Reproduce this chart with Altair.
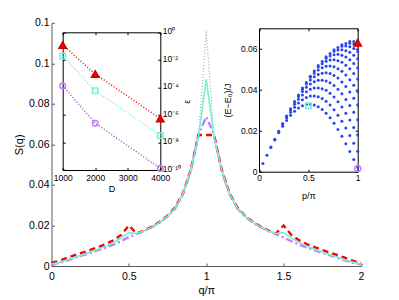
import altair as alt
import pandas as pd

FONT = "Liberation Sans"

# ---------------- main panel: S(q) ----------------
q = [0.00, 0.05, 0.10, 0.15, 0.20, 0.25, 0.30, 0.35, 0.40, 0.45, 0.50,
     0.55, 0.60, 0.65, 0.70, 0.75, 0.80, 0.85, 0.90, 0.95, 1.00,
     1.05, 1.10, 1.15, 1.20, 1.25, 1.30, 1.35, 1.40, 1.45, 1.50,
     1.55, 1.60, 1.65, 1.70, 1.75, 1.80, 1.85, 1.90, 1.95, 2.00]

s_red = [0.0016, 0.0025, 0.0040, 0.0053, 0.0066, 0.0079, 0.0093, 0.0108, 0.0127, 0.0153, 0.0200,
         0.0160, 0.0176, 0.0195, 0.0218, 0.0248, 0.0290, 0.0360, 0.0475, 0.0646, 0.0646,
         0.0646, 0.0475, 0.0360, 0.0290, 0.0248, 0.0218, 0.0195, 0.0176, 0.0160, 0.0200,
         0.0153, 0.0127, 0.0108, 0.0093, 0.0079, 0.0066, 0.0053, 0.0040, 0.0025, 0.0014]

s_cyan = [0.0010, 0.0018, 0.0030, 0.0043, 0.0056, 0.0069, 0.0083, 0.0098, 0.0116, 0.0138, 0.0165,
          0.0160, 0.0174, 0.0193, 0.0216, 0.0246, 0.0287, 0.0357, 0.0472, 0.0640, 0.0920,
          0.0640, 0.0472, 0.0357, 0.0287, 0.0246, 0.0216, 0.0193, 0.0174, 0.0160, 0.0165,
          0.0138, 0.0116, 0.0098, 0.0083, 0.0069, 0.0056, 0.0043, 0.0030, 0.0018, 0.0010]

s_purple = [0.0008, 0.0015, 0.0027, 0.0040, 0.0053, 0.0065, 0.0078, 0.0091, 0.0105, 0.0122, 0.0143,
            0.0158, 0.0173, 0.0192, 0.0215, 0.0245, 0.0285, 0.0355, 0.0470, 0.0650, 0.0735,
            0.0650, 0.0470, 0.0355, 0.0285, 0.0245, 0.0215, 0.0192, 0.0173, 0.0158, 0.0141,
            0.0122, 0.0105, 0.0091, 0.0078, 0.0065, 0.0053, 0.0040, 0.0027, 0.0015, 0.0008]

s_grey = [0.0010, 0.0018, 0.0030, 0.0043, 0.0056, 0.0069, 0.0083, 0.0098, 0.0116, 0.0138, 0.0165,
          0.0160, 0.0174, 0.0193, 0.0216, 0.0246, 0.0287, 0.0357, 0.0472, 0.0640, 0.1160,
          0.0640, 0.0472, 0.0357, 0.0287, 0.0246, 0.0216, 0.0193, 0.0174, 0.0160, 0.0165,
          0.0138, 0.0116, 0.0098, 0.0083, 0.0069, 0.0056, 0.0043, 0.0030, 0.0018, 0.0010]

# ---------------- inset 1: epsilon vs D ----------------
D = [1000, 2000, 4000]
eps_red = [1.2e-1, 9.3e-4, 5.4e-7]
eps_cyan = [1.9e-2, 5.8e-5, 3.2e-8]
eps_purple = [1.3e-4, 2.5e-7, 1.3e-10]

# ---------------- inset 2: spectrum (E-E0)/J vs p/pi ----------------
p_cols = [0.04, 0.08, 0.12, 0.16, 0.20, 0.24, 0.28, 0.32, 0.36, 0.40, 0.44, 0.48, 0.52,
          0.56, 0.60, 0.64, 0.68, 0.72, 0.76, 0.80, 0.84, 0.88, 0.92, 0.96, 1.00]
E_cols = [
    [0.0040],
    [0.0080],
    [0.0118, 0.0120],
    [0.0155, 0.0158],
    [0.0190, 0.0195, 0.0198],
    [0.0222, 0.0230, 0.0235],
    [0.0250, 0.0262, 0.0269, 0.0272],
    [0.0275, 0.0290, 0.0301, 0.0307],
    [0.0295, 0.0315, 0.0329, 0.0339, 0.0343],
    [0.0311, 0.0335, 0.0354, 0.0367, 0.0374],
    [0.0322, 0.0351, 0.0374, 0.0392, 0.0403, 0.0408],
    [0.0329, 0.0362, 0.0390, 0.0412, 0.0428, 0.0436],
    [0.0330, 0.0369, 0.0402, 0.0428, 0.0448, 0.0461, 0.0466],
    [0.0326, 0.0370, 0.0408, 0.0439, 0.0464, 0.0481, 0.0491],
    [0.0317, 0.0366, 0.0409, 0.0446, 0.0475, 0.0497, 0.0511, 0.0518],
    [0.0304, 0.0357, 0.0405, 0.0447, 0.0481, 0.0508, 0.0527, 0.0538],
    [0.0285, 0.0344, 0.0397, 0.0443, 0.0483, 0.0515, 0.0539, 0.0554, 0.0561],
    [0.0263, 0.0325, 0.0383, 0.0434, 0.0479, 0.0516, 0.0545, 0.0565, 0.0577],
    [0.0236, 0.0303, 0.0365, 0.0421, 0.0470, 0.0512, 0.0546, 0.0571, 0.0588, 0.0595],
    [0.0206, 0.0276, 0.0342, 0.0402, 0.0457, 0.0503, 0.0542, 0.0573, 0.0594, 0.0606],
    [0.0173, 0.0246, 0.0316, 0.0380, 0.0438, 0.0490, 0.0534, 0.0569, 0.0595, 0.0612, 0.0620],
    [0.0137, 0.0213, 0.0285, 0.0353, 0.0416, 0.0472, 0.0520, 0.0560, 0.0591, 0.0614, 0.0626],
    [0.0099, 0.0177, 0.0252, 0.0323, 0.0389, 0.0449, 0.0502, 0.0547, 0.0583, 0.0610, 0.0627, 0.0635],
    [0.0060, 0.0139, 0.0216, 0.0290, 0.0359, 0.0422, 0.0479, 0.0528, 0.0569, 0.0601, 0.0623, 0.0636],
    [0.0020, 0.0100, 0.0179, 0.0254, 0.0326, 0.0392, 0.0453, 0.0506, 0.0551, 0.0587, 0.0615, 0.0632, 0.0640],
]
tri_p, tri_E = [1.0], [0.0629]
sq_p, sq_E = [0.5], [0.0322]
circ_p, circ_E = [1.0], [0.0016]

# ---------------- colours ----------------
RED = "#ff0000"
CYAN = "#74f2d6"
PURPLE = "#c67cf5"
GREY = "#9a9a9a"
BLUE = "#2846f0"
AXGREY = "#5a5a5a"

# ---------------- geometry of the plot area ----------------
W, H = 309.5, 243.3

sx_main = alt.Scale(domain=[0, 2], range=[0, W], nice=False, zero=False)
sy_main = alt.Scale(domain=[0, 0.12], range=[H, 0], nice=False, zero=False)
sx_i1 = alt.Scale(domain=[1000, 4000], range=[11.2, 108.8], nice=False, zero=False)
sy_i1 = alt.Scale(type="log", domain=[1e-10, 1], range=[147.3, 9.6], nice=False)
sx_i2 = alt.Scale(domain=[0, 1], range=[207.5, 306.2], nice=False, zero=False)
sy_i2 = alt.Scale(domain=[0, 0.07], range=[149.0, 5.6], nice=False, zero=False)


def ax(**kw):
    base = dict(grid=False, labelFont=FONT, titleFont=FONT, labelColor="black",
                titleColor="black", titleFontWeight="normal", labelFlush=False,
                labelOverlap=False, labelBound=False)
    base.update(kw)
    return alt.Axis(**base)


def ax_line(orient, offset, values, color, ticks=True, domain=True, tsize=2.5):
    return ax(orient=orient, offset=offset, values=values, labels=False, title=None,
              ticks=ticks, tickSize=tsize, domain=domain, domainColor=color,
              tickColor=color, domainWidth=1, tickWidth=1)


layers = []

# --- main inward ticks
main_xv = [0, 0.5, 1, 1.5, 2]
main_yv = [0, 0.02, 0.04, 0.06, 0.08, 0.1, 0.12]
layers.append(
    alt.Chart(pd.DataFrame({"x": [0.0], "y": [0.0]})).mark_point(opacity=0).encode(
        x=alt.X("x:Q", scale=sx_main, axis=ax_line("top", -H, main_xv, AXGREY, domain=False, tsize=3)),
        y=alt.Y("y:Q", scale=sy_main, axis=ax_line("right", -W, main_yv, AXGREY, domain=False, tsize=3)),
    )
)

# --- main curves
def main_line(vals, color, width, dash, with_axes=False):
    df = pd.DataFrame({"q": q, "S": vals})
    if with_axes:
        xa = ax(orient="bottom", values=main_xv, format="~g", title="q/π", ticks=False,
                tickSize=0, domainColor=AXGREY, labelFontSize=10.5, titleFontSize=11,
                labelPadding=5, titlePadding=3)
        ya = ax(orient="left", values=main_yv, format="~g", title="S(q)", ticks=False,
                tickSize=0, domainColor=AXGREY, labelFontSize=10.5, titleFontSize=11,
                labelPadding=2.5, titlePadding=4)
    else:
        xa = None
        ya = None
    kw = dict(color=color, strokeWidth=width)
    if dash:
        kw["strokeDash"] = dash
    return alt.Chart(df).mark_line(**kw).encode(
        x=alt.X("q:Q", scale=sx_main, axis=xa),
        y=alt.Y("S:Q", scale=sy_main, axis=ya),
        order="q:Q",
    )

layers.append(main_line(s_grey, GREY, 1, [1, 2]))
layers.append(main_line(s_purple, PURPLE, 2.4, [7, 3, 2, 3]))
layers.append(main_line(s_red, RED, 2.4, [6, 4]))
layers.append(main_line(s_cyan, CYAN, 1.6, None, with_axes=True))

# --- inset 1 frame
i1_xv = [1000, 2000, 3000, 4000]
i1_yv = [1, 1e-2, 1e-4, 1e-6, 1e-8, 1e-10]
sup_expr = ("'10' + ['⁰','⁻¹','⁻²','⁻³','⁻⁴','⁻⁵','⁻⁶','⁻⁷','⁻⁸','⁻⁹','⁻¹⁰']"
            "[round(-log(datum.value)/LN10)]")
layers.append(
    alt.Chart(pd.DataFrame({"x": [2000.0], "y": [1e-3]})).mark_point(opacity=0).encode(
        x=alt.X("x:Q", scale=sx_i1, axis=ax(orient="bottom", offset=-96, values=i1_xv, format="d",
                                            title="D", ticks=False, tickSize=0, domainColor="black",
                                            labelFontSize=8.5, titleFontSize=9, labelPadding=3.5,
                                            titlePadding=2.5)),
        y=alt.Y("y:Q", scale=sy_i1, axis=ax(orient="right", offset=-200.7, values=i1_yv,
                                            labelExpr=sup_expr, title="ε", titleAngle=270,
                                            ticks=False, tickSize=0, domainColor="black",
                                            labelFontSize=8.5, titleFontSize=9, labelPadding=2,
                                            labelOffset=-1.5, titlePadding=11)),
    )
)
layers.append(
    alt.Chart(pd.DataFrame({"x": [2000.0], "y": [1e-3]})).mark_point(opacity=0).encode(
        x=alt.X("x:Q", scale=sx_i1, axis=ax_line("bottom", 9.6 - H, i1_xv, "black")),
        y=alt.Y("y:Q", scale=sy_i1, axis=ax_line("right", 11.2 - W, i1_yv, "black")),
    )
)
layers.append(
    alt.Chart(pd.DataFrame({"x": [2000.0], "y": [1e-3]})).mark_point(opacity=0).encode(
        x=alt.X("x:Q", scale=sx_i1, axis=ax_line("top", -147.3, i1_xv, "black", domain=False)),
        y=alt.Y("y:Q", scale=sy_i1, axis=ax_line("left", -108.8, i1_yv, "black", domain=False)),
    )
)

# --- inset 1 data
def i1_series(vals, color, shape, size, filled, stroke):
    df = pd.DataFrame({"D": D, "eps": vals})
    enc = dict(x=alt.X("D:Q", scale=sx_i1, axis=None), y=alt.Y("eps:Q", scale=sy_i1, axis=None))
    line = alt.Chart(df).mark_line(color=color, strokeWidth=1.5, strokeDash=[1, 2]).encode(**enc)
    pts = alt.Chart(df).mark_point(shape=shape, size=size, filled=filled, color=color,
                                   stroke=stroke, strokeWidth=1.5, opacity=1).encode(**enc)
    return [line, pts]

layers += i1_series(eps_purple, "#8a5cc0", "circle", 32, False, PURPLE)
layers += i1_series(eps_cyan, CYAN, "square", 30, False, CYAN)
layers += i1_series(eps_red, RED, "triangle-up", 55, True, "#d00000")

# --- inset 2 frame
i2_xv = [0, 0.5, 1]
i2_yv = [0, 0.02, 0.04, 0.06]
layers.append(
    alt.Chart(pd.DataFrame({"x": [0.5], "y": [0.03]})).mark_point(opacity=0).encode(
        x=alt.X("x:Q", scale=sx_i2, axis=ax(orient="bottom", offset=149.0 - H, values=i2_xv,
                                            format="~g", title="p/π", ticks=False, tickSize=0,
                                            domainColor="black", labelFontSize=8.5,
                                            titleFontSize=9, labelPadding=2, titlePadding=9)),
        y=alt.Y("y:Q", scale=sy_i2, axis=ax(orient="left", offset=-207.5, values=i2_yv,
                                            format="~g", title="(E−E₀)/J", ticks=False,
                                            tickSize=0, domainColor="black", labelFontSize=8.5,
                                            titleFontSize=9, labelPadding=2, titlePadding=8)),
    )
)
layers.append(
    alt.Chart(pd.DataFrame({"x": [0.5], "y": [0.03]})).mark_point(opacity=0).encode(
        x=alt.X("x:Q", scale=sx_i2, axis=ax_line("bottom", 5.6 - H, i2_xv, "black")),
        y=alt.Y("y:Q", scale=sy_i2, axis=ax_line("left", -306.2, i2_yv, "black")),
    )
)
layers.append(
    alt.Chart(pd.DataFrame({"x": [0.5], "y": [0.03]})).mark_point(opacity=0).encode(
        x=alt.X("x:Q", scale=sx_i2, axis=ax_line("top", -149.0, i2_xv, "black", domain=False)),
        y=alt.Y("y:Q", scale=sy_i2, axis=ax_line("right", 207.5 - W, i2_yv, "black", domain=False)),
    )
)

# --- inset 2 data
rows_p, rows_E = [], []
for pc, col in zip(p_cols, E_cols):
    for e in col:
        rows_p.append(pc)
        rows_E.append(e)
df_spec = pd.DataFrame({"p": rows_p, "E": rows_E})


def enc2():
    return dict(x=alt.X("p:Q", scale=sx_i2, axis=None), y=alt.Y("E:Q", scale=sy_i2, axis=None))


layers.append(
    alt.Chart(df_spec).mark_circle(size=9, color=BLUE, opacity=1).encode(**enc2())
)
layers.append(
    alt.Chart(pd.DataFrame({"p": tri_p, "E": tri_E})).mark_point(
        shape="triangle-up", size=55, filled=True, color=RED, stroke="#d00000",
        strokeWidth=1.5, opacity=1).encode(**enc2())
)
layers.append(
    alt.Chart(pd.DataFrame({"p": sq_p, "E": sq_E})).mark_point(
        shape="square", size=30, filled=False, color=CYAN, strokeWidth=1.5, opacity=1).encode(**enc2())
)
layers.append(
    alt.Chart(pd.DataFrame({"p": circ_p, "E": circ_E})).mark_point(
        shape="circle", size=40, filled=False, color=PURPLE, strokeWidth=1.5, opacity=1).encode(**enc2())
)

chart = (
    alt.layer(*layers)
    .resolve_scale(x="independent", y="independent")
    .properties(width=W, height=H, autosize=alt.AutoSizeParams(type="none"),
                padding={"left": 43.5, "top": 14.7, "right": 30, "bottom": 32})
    .configure_view(stroke=None)
)

chart.save("out.html", embed_options={"renderer": "svg", "actions": False})
